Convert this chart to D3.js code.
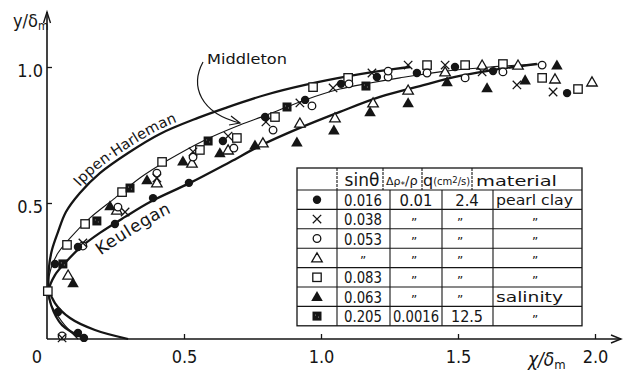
<!DOCTYPE html>
<html><head><meta charset="utf-8">
<script src="https://cdn.jsdelivr.net/npm/d3@7"></script>
<style>
body{margin:0;background:#fff;}
svg{display:block;background:#fff;}
</style></head><body>
<svg id="c" width="623" height="372"></svg>
<script>
// ---------------- data ----------------
const xTicks = [0, 0.5, 1.0, 1.5, 2.0];
const xTickLabels = ["0", "0.5", "1.0", "1.5", "2.0"];
const yTicks = [0.5, 1.0];
const yTickLabels = ["0.5", "1.0"];

// theoretical curves [x/δm, y/δm]
const ippenHarleman = [[0.296,0],[0.175,0.033],[0.084,0.077],[0.029,0.132],[0.007,0.188],[0.007,0.261],[0.018,0.327],[0.040,0.393],[0.069,0.467],[0.120,0.537],[0.193,0.610],[0.296,0.684],[0.412,0.754],[0.551,0.813],[0.650,0.849],[0.796,0.897],[0.942,0.934],[1.106,0.967],[1.270,0.993],[1.325,1.0]];
const middleton = [[0.113,0],[0.055,0.063],[0.011,0.136],[0.004,0.199],[0.015,0.261],[0.040,0.316],[0.084,0.371],[0.157,0.445],[0.248,0.518],[0.339,0.592],[0.442,0.658],[0.577,0.732],[0.704,0.787],[0.803,0.824],[0.942,0.879],[1.069,0.919],[1.179,0.941],[1.288,0.960],[1.434,0.982],[1.617,1.0],[1.799,1.011]];
const keulegan = [[0.142,0],[0.055,0.051],[0.015,0.125],[0.007,0.180],[0.029,0.235],[0.069,0.283],[0.120,0.335],[0.193,0.390],[0.285,0.449],[0.376,0.504],[0.522,0.574],[0.668,0.651],[0.777,0.710],[0.923,0.776],[1.069,0.835],[1.215,0.890],[1.361,0.930],[1.507,0.967],[1.653,0.993],[1.788,1.011]];

// measured points [x/δm, y/δm]
const filledCircle = [[0.113,0.022],[0.135,0.004],[0.040,0.099],[0.029,0.276],[0.113,0.338],[0.248,0.423],[0.387,0.518],[0.518,0.574],[0.642,0.728],[0.796,0.816],[0.942,0.879],[1.073,0.938],[1.204,0.963],[1.350,0.978],[1.489,1.000],[1.628,0.985],[1.898,0.904]];
const crossMark = [[0.055,0.004],[0.131,0.353],[0.285,0.467],[0.401,0.592],[0.533,0.688],[0.661,0.746],[0.799,0.798],[0.923,0.868],[1.044,0.923],[1.186,0.978],[1.318,1.007],[1.453,1.007],[1.588,0.982],[1.715,0.934],[1.847,0.908]];
const openCircle = [[0.055,0.011],[0.131,0.342],[0.259,0.485],[0.401,0.610],[0.533,0.669],[0.682,0.702],[0.825,0.768],[0.967,0.857],[1.102,0.938],[1.245,0.963],[1.245,0.985],[1.387,0.978],[1.526,0.960],[1.664,0.982],[1.807,1.007]];
const openTriangle = [[0.077,0.235],[0.255,0.474],[0.401,0.574],[0.529,0.647],[0.661,0.695],[0.788,0.721],[0.923,0.794],[1.051,0.813],[1.190,0.868],[1.318,0.915],[1.453,0.982],[1.588,1.007],[1.719,1.007],[1.854,0.956],[1.989,0.945]];
const openSquare = [[0.003,0.176],[0.073,0.346],[0.139,0.423],[0.274,0.540],[0.420,0.651],[0.558,0.695],[0.693,0.739],[0.832,0.816],[0.971,0.926],[1.099,0.960],[1.387,1.007],[1.526,1.007],[1.664,1.011],[1.807,0.960],[1.938,0.919]];
const filledTriangle = [[0.095,0.206],[0.230,0.489],[0.365,0.585],[0.496,0.654],[0.631,0.684],[0.759,0.713],[0.912,0.724],[1.047,0.768],[1.179,0.835],[1.318,0.868],[1.460,0.945],[1.606,0.923],[1.745,0.952],[1.861,1.007]];
const hatchedSquare = [[0.058,0.276],[0.182,0.434],[0.303,0.555],[0.588,0.728],[0.876,0.853],[1.164,0.930]];

// table
const tableSymbols = ["filledCircle","cross","openCircle","openTriangle","openSquare","filledTriangle","hatchedSquare"];
const DITTO = "\u201D";
const sinTheta = ["0.016","0.038","0.053",DITTO,"0.083","0.063","0.205"];
const densityRatio = ["0.01",DITTO,DITTO,DITTO,DITTO,DITTO,"0.0016"];
const discharge = ["2.4",DITTO,DITTO,DITTO,DITTO,DITTO,"12.5"];
const material = ["pearl clay",DITTO,DITTO,DITTO,DITTO,"salinity",DITTO];

// ---------------- drawing ----------------
const INK = "#151515";
const narrow = "'Liberation Sans Narrow','Arial Narrow','DejaVu Sans Condensed',sans-serif";
const sans = "'DejaVu Sans','Liberation Sans',sans-serif";
const svg = d3.select("#c");
const x = d3.scaleLinear().domain([0, 2]).range([47, 595]);
const y = d3.scaleLinear().domain([0, 1]).range([339, 67]);

// axes
const xAxis = d3.axisBottom(x).tickValues(xTicks.slice(1)).tickSize(-5).tickPadding(11)
  .tickFormat(d => xTickLabels[xTicks.indexOf(d)]);
const gx = svg.append("g").attr("transform", `translate(0,${y(0)})`).call(xAxis);
gx.select(".domain").remove();
gx.selectAll("line").attr("stroke", INK).attr("stroke-width", 1.3);
gx.selectAll("text").attr("font-family", narrow).attr("font-size", 18).attr("fill", INK);

const yAxis = d3.axisLeft(y).tickValues(yTicks).tickSize(-5).tickPadding(4)
  .tickFormat(d => yTickLabels[yTicks.indexOf(d)]);
const gy = svg.append("g").attr("transform", `translate(${x(0)},0)`).call(yAxis);
gy.select(".domain").remove();
gy.selectAll("line").attr("stroke", INK).attr("stroke-width", 1.3);
gy.selectAll("text").attr("font-family", narrow).attr("font-size", 18).attr("fill", INK).attr("dy", "0.55em");

svg.append("text").attr("x", x(0) - 10).attr("y", 363).attr("text-anchor", "middle")
  .attr("font-family", narrow).attr("font-size", 18).attr("fill", INK).text(xTickLabels[0]);

// axis lines with arrows
svg.append("line").attr("x1", x(0)).attr("y1", y(0)).attr("x2", 621).attr("y2", y(0))
  .attr("stroke", INK).attr("stroke-width", 1.6);
svg.append("path").attr("d", `M611,335 L621,${y(0)} L611,343`).attr("fill", "none").attr("stroke", INK).attr("stroke-width", 1.4);
svg.append("line").attr("x1", x(0)).attr("y1", y(0)).attr("x2", x(0)).attr("y2", 12)
  .attr("stroke", INK).attr("stroke-width", 1.6);
svg.append("path").attr("d", `M${x(0)-3.5},23 L${x(0)},12 L${x(0)+3.5},23`).attr("fill", "none").attr("stroke", INK).attr("stroke-width", 1.4);

// axis titles
const yt = svg.append("text").attr("x", 13).attr("y", 27).attr("font-family", narrow).attr("font-size", 18).attr("fill", INK);
yt.append("tspan").text("y/δ");
yt.append("tspan").attr("font-size", 12).attr("dy", 3).text("m");
const xt = svg.append("text").attr("x", 528).attr("y", 366).attr("font-family", narrow).attr("font-size", 19).attr("fill", INK).attr("font-style", "italic");
xt.append("tspan").text("χ/δ");
xt.append("tspan").attr("font-size", 13).attr("dy", 3).attr("font-style", "normal").text("m");

// curves
const line = d3.line().x(d => x(d[0])).y(d => y(d[1])).curve(d3.curveCatmullRom.alpha(0.5));
const ipPath = svg.append("path").attr("id", "ipPath").attr("d", line(ippenHarleman))
  .attr("fill", "none").attr("stroke", INK).attr("stroke-width", 2.3);
svg.append("path").attr("d", line(middleton))
  .attr("fill", "none").attr("stroke", INK).attr("stroke-width", 1.1);
const kePath = svg.append("path").attr("id", "kePath").attr("d", line(keulegan))
  .attr("fill", "none").attr("stroke", INK).attr("stroke-width", 2.3);

function offsetWhere(node, pred) {
  const L = node.getTotalLength();
  for (let l = 0; l < L; l += 0.5) { const p = node.getPointAtLength(l); if (pred(p)) return l; }
  return 0;
}
const ipOff = offsetWhere(ipPath.node(), p => p.y < 190 && p.x >= 82);
svg.append("text").attr("font-family", sans).attr("font-size", 14.5).attr("fill", INK).attr("dy", -4)
  .append("textPath").attr("href", "#ipPath").attr("startOffset", ipOff).text("Ippen·Harleman");
const keOff = offsetWhere(kePath.node(), p => p.y <= 240 && p.x > 60);
svg.append("text").attr("font-family", sans).attr("font-size", 17).attr("fill", INK).attr("dy", 19)
  .attr("letter-spacing", 1)
  .append("textPath").attr("href", "#kePath").attr("startOffset", keOff).text("Keulegan");

// Middleton label + arrow
svg.append("text").attr("x", 207).attr("y", 64).attr("font-family", sans).attr("font-size", 14.5)
  .attr("fill", INK).attr("textLength", 80).attr("lengthAdjust", "spacingAndGlyphs").text("Middleton");
svg.append("path").attr("d", "M203,62 C190,86 200,113 240,123").attr("fill", "none").attr("stroke", INK).attr("stroke-width", 1.2);
svg.append("path").attr("d", "M231,116 L240,123 L229,125").attr("fill", "none").attr("stroke", INK).attr("stroke-width", 1.2);

// markers
function drawMarker(g, type, px, py) {
  const sw = 1.3;
  if (type === "filledCircle") g.append("circle").attr("cx", px).attr("cy", py).attr("r", 4.2).attr("fill", INK);
  else if (type === "openCircle") g.append("circle").attr("cx", px).attr("cy", py).attr("r", 3.8).attr("fill", "#fff").attr("stroke", INK).attr("stroke-width", sw);
  else if (type === "cross") g.append("path").attr("d", `M${px-4.2},${py-4.2}L${px+4.2},${py+4.2}M${px-4.2},${py+4.2}L${px+4.2},${py-4.2}`).attr("stroke", INK).attr("stroke-width", sw);
  else if (type === "openSquare") g.append("rect").attr("x", px-4.2).attr("y", py-4.2).attr("width", 8.4).attr("height", 8.4).attr("fill", "#fff").attr("stroke", INK).attr("stroke-width", sw);
  else if (type === "hatchedSquare") {
    g.append("rect").attr("x", px-4.5).attr("y", py-4.5).attr("width", 9).attr("height", 9).attr("fill", INK);
    g.append("path").attr("d", `M${px-2},${py-1}h1M${px+1},${py+1}h1`).attr("stroke", "#888").attr("stroke-width", 1);
  }
  else if (type === "openTriangle") g.append("path").attr("transform", `translate(${px},${py+1})`).attr("d", d3.symbol(d3.symbolTriangle, 48)()).attr("fill", "#fff").attr("stroke", INK).attr("stroke-width", sw);
  else if (type === "filledTriangle") g.append("path").attr("transform", `translate(${px},${py+1})`).attr("d", d3.symbol(d3.symbolTriangle, 58)()).attr("fill", INK);
}
const series = [
  ["openSquare", openSquare], ["openTriangle", openTriangle], ["openCircle", openCircle],
  ["cross", crossMark], ["filledTriangle", filledTriangle], ["hatchedSquare", hatchedSquare], ["filledCircle", filledCircle]
];
const gm = svg.append("g");
series.forEach(([type, pts]) => pts.forEach(p => drawMarker(gm, type, x(p[0]), y(p[1]))));

// ---------------- table ----------------
const T = {left: 297, right: 582, top: 168, headBottom: 190, rowH: 19.4};
const dataCols = [297, 337, 390, 442, 493, 582];
const headCols = [297, 337, 383, 422, 472, 582];
const nRows = sinTheta.length;
const bottom = T.headBottom + nRows * T.rowH;
const gt = svg.append("g");
gt.append("rect").attr("x", T.left).attr("y", T.top).attr("width", T.right - T.left).attr("height", bottom - T.top)
  .attr("fill", "#fff").attr("stroke", INK).attr("stroke-width", 1.3);
headCols.slice(1, -1).forEach(cx => gt.append("line").attr("x1", cx).attr("x2", cx).attr("y1", T.top).attr("y2", T.headBottom).attr("stroke", INK).attr("stroke-width", 1.1).attr("stroke-dasharray", "3,1"));
dataCols.slice(1, -1).forEach(cx => gt.append("line").attr("x1", cx).attr("x2", cx).attr("y1", T.headBottom).attr("y2", bottom).attr("stroke", INK).attr("stroke-width", 1.1));
for (let i = 0; i < nRows; i++) {
  const yy = T.headBottom + i * T.rowH;
  gt.append("line").attr("x1", T.left).attr("x2", T.right).attr("y1", yy).attr("y2", yy).attr("stroke", INK).attr("stroke-width", 1.1);
}
// header
const hb = 186;
gt.append("text").attr("x", 362).attr("y", hb).attr("text-anchor", "middle").attr("font-family", sans).attr("font-size", 17).attr("fill", INK).text("sinθ");
const dr = gt.append("text").attr("x", 386).attr("y", hb - 1).attr("font-family", sans).attr("font-size", 11).attr("fill", INK);
dr.append("tspan").text("Δρ");
dr.append("tspan").attr("font-size", 9).attr("dy", 3).text("*");
dr.append("tspan").attr("dy", -3).attr("font-size", 13).text("/ρ");
const qh = gt.append("text").attr("x", 423).attr("y", hb).attr("font-family", sans).attr("font-size", 16).attr("fill", INK);
qh.append("tspan").text("q");
qh.append("tspan").attr("font-size", 10).attr("dy", -1).text("(cm");
qh.append("tspan").attr("font-size", 8.5).attr("dy", -2).text("2");
qh.append("tspan").attr("font-size", 10).attr("dy", 2).text("/s)");
gt.append("text").attr("x", 476).attr("y", hb).attr("font-family", sans).attr("font-size", 14).attr("fill", INK)
  .attr("textLength", 81).attr("lengthAdjust", "spacingAndGlyphs").text("material");
// rows
for (let i = 0; i < nRows; i++) {
  const cy = T.headBottom + (i + 0.5) * T.rowH;
  drawMarker(gt, tableSymbols[i], 317, cy);
  const cell = (txt, cx, isDitto, fit) => {
    const t = gt.append("text").attr("x", cx).attr("text-anchor", "middle").attr("fill", INK);
    if (isDitto) t.attr("y", cy + 7.5).attr("font-family", sans).attr("font-size", 12).text(txt);
    else {
      t.attr("y", cy + 6).attr("font-family", narrow).attr("font-size", 16.5).text(txt);
      if (fit) t.attr("textLength", fit).attr("lengthAdjust", "spacingAndGlyphs");
    }
  };
  cell(sinTheta[i], 363, sinTheta[i] === DITTO, sinTheta[i].length > 4 ? 38 : null);
  cell(densityRatio[i], densityRatio[i] === DITTO ? 414 : 416, densityRatio[i] === DITTO, densityRatio[i].length > 5 ? 46 : null);
  cell(discharge[i], discharge[i] === DITTO ? 460 : 467, discharge[i] === DITTO, discharge[i].length > 3 ? 32 : null);
  if (material[i] === DITTO) cell(material[i], 535, true);
  else gt.append("text").attr("x", 496).attr("y", cy + 5.5).attr("font-family", sans).attr("font-size", 14).attr("fill", INK)
    .attr("textLength", material[i] === "salinity" ? 67 : 77).attr("lengthAdjust", "spacingAndGlyphs").text(material[i]);
}
</script>
</body></html>
